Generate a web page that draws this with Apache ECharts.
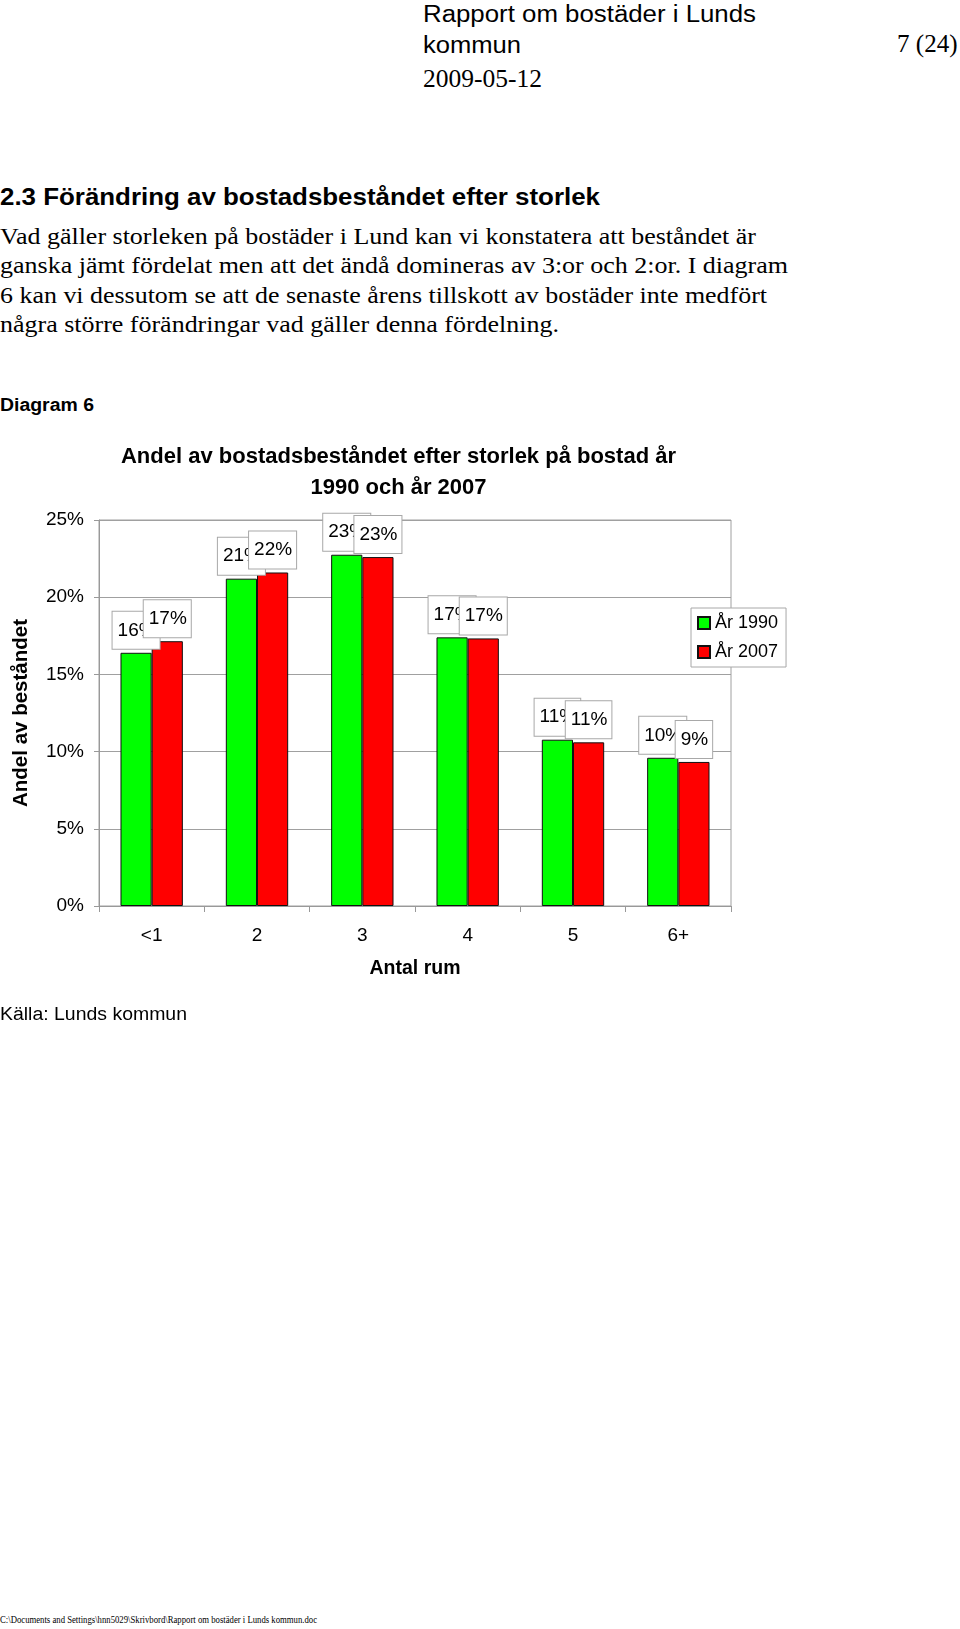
<!DOCTYPE html>
<html>
<head>
<meta charset="utf-8">
<script src="https://cdn.jsdelivr.net/npm/echarts@6/dist/echarts.min.js"></script>
<style>
  html, body { margin: 0; padding: 0; background: #fff; }
  body { width: 960px; height: 1629px; position: relative; overflow: hidden; }
  .t { position: absolute; white-space: nowrap; line-height: 1; color: #000; transform-origin: 0 0; }
  .sans { font-family: "Liberation Sans", Arial, sans-serif; }
  .serif { font-family: "Liberation Serif", "Times New Roman", serif; }
  #chart { position: absolute; left: 0; top: 420px; width: 960px; height: 600px; }
</style>
</head>
<body>
<div id="chart"></div>
<script>
// ---- data ----
const categories = ['<1', '2', '3', '4', '5', '6+'];
const seriesNames = ['År 1990', 'År 2007'];
const values1990 = [0.164, 0.212, 0.2275, 0.174, 0.1077, 0.096];
const values2007 = [0.1715, 0.216, 0.226, 0.1733, 0.106, 0.0933];
const yTicks = [0, 0.05, 0.10, 0.15, 0.20, 0.25];
const chartTitle = 'Andel av bostadsbeståndet efter storlek på bostad år\n1990 och år 2007';
const yAxisName = 'Andel av beståndet';
const xAxisName = 'Antal rum';

// ---- page text ----
const texts = [
  {s: 'Rapport om bostäder i Lunds', cls: 'sans', size: 23, w: 400, x: 422.7, base: 22.7, width: 333},
  {s: 'kommun', cls: 'sans', size: 23, w: 400, x: 422.7, base: 53.3, width: 98},
  {s: '7 (24)', cls: 'serif', size: 25, w: 400, x: 896.7, base: 51.7, width: 60.6},
  {s: '2009-05-12', cls: 'serif', size: 25, w: 400, x: 422.7, base: 87.3, width: 119},
  {s: '2.3 Förändring av bostadsbeståndet efter storlek', cls: 'sans', size: 23, w: 700, x: 0, base: 205, width: 600},
  {s: 'Vad gäller storleken på bostäder i Lund kan vi konstatera att beståndet är', cls: 'serif', size: 24, w: 400, x: 0, base: 244, width: 756},
  {s: 'ganska jämt fördelat men att det ändå domineras av 3:or och 2:or. I diagram', cls: 'serif', size: 24, w: 400, x: 0, base: 273.5, width: 788},
  {s: '6 kan vi dessutom se att de senaste årens tillskott av bostäder inte medfört', cls: 'serif', size: 24, w: 400, x: 0, base: 303, width: 767},
  {s: 'några större förändringar vad gäller denna fördelning.', cls: 'serif', size: 24, w: 400, x: 0, base: 332, width: 559},
  {s: 'Diagram 6', cls: 'sans', size: 17.5, w: 700, x: 0, base: 412.3, width: 94},
  {s: 'Källa: Lunds kommun', cls: 'sans', size: 18, w: 400, x: 0, base: 1020, width: 187},
  {s: 'C:\\Documents and Settings\\hnn5029\\Skrivbord\\Rapport om bostäder i Lunds kommun.doc', cls: 'serif', size: 10, w: 400, x: 0, base: 1623, width: 317}
];
texts.forEach(function (t) {
  const d = document.createElement('div');
  d.className = 't ' + t.cls;
  d.textContent = t.s;
  d.style.fontSize = t.size + 'px';
  d.style.fontWeight = t.w;
  const asc = t.cls === 'sans' ? 0.8465 : 0.8375;
  d.style.left = t.x + 'px';
  d.style.top = (t.base - asc * t.size) + 'px';
  document.body.appendChild(d);
  const mw = d.getBoundingClientRect().width;
  if (mw > 0) d.style.transform = 'scaleX(' + (t.width / mw) + ')';
});

// ---- chart ----
const chart = echarts.init(document.getElementById('chart'));
const FONT = '"Liberation Sans", Arial, sans-serif';
const pct = function (v) { return Math.round(v * 100) + '%'; };
const labelStyle = {
  show: true,
  position: 'top',
  distance: 4,
  formatter: function (p) { return pct(p.value); },
  fontFamily: FONT,
  fontSize: 19,
  color: '#000',
  backgroundColor: '#fff',
  borderColor: '#a8a8a8',
  borderWidth: 1,
  padding: [9, 4, 9, 5]
};
chart.setOption({
  animation: false,
  textStyle: { fontFamily: FONT },
  title: {
    text: chartTitle,
    left: 398.5,
    top: 21,
    padding: 0,
    textAlign: 'center',
    textStyle: { fontFamily: FONT, fontSize: 22, fontWeight: 'bold', lineHeight: 31, color: '#000' }
  },
  legend: {
    data: seriesNames,
    orient: 'vertical',
    left: 691,
    top: 188,
    itemWidth: 12,
    itemHeight: 12,
    itemGap: 11,
    padding: [6, 8, 6, 6],
    backgroundColor: '#fff',
    borderColor: '#a8a8a8',
    borderWidth: 1,
    borderRadius: 0,
    icon: 'rect',
    textStyle: { fontFamily: FONT, fontSize: 18, color: '#000' }
  },
  grid: {
    left: 99, top: 100, width: 632, height: 386,
    show: true, borderColor: '#a0a0a0', borderWidth: 1, backgroundColor: 'transparent'
  },
  xAxis: {
    type: 'category',
    data: categories,
    name: xAxisName,
    nameLocation: 'middle',
    nameGap: 53,
    nameTextStyle: { fontFamily: FONT, fontSize: 19.5, fontWeight: 'bold', color: '#000' },
    axisLine: { lineStyle: { color: '#999', width: 1 } },
    axisTick: { show: true, length: 6, interval: 0, lineStyle: { color: '#999' } },
    axisLabel: { fontFamily: FONT, fontSize: 19, color: '#000', margin: 20, interval: 0 }
  },
  yAxis: {
    type: 'value',
    min: yTicks[0],
    max: yTicks[yTicks.length - 1],
    interval: 0.05,
    name: yAxisName,
    nameLocation: 'middle',
    nameGap: 67,
    nameTextStyle: { fontFamily: FONT, fontSize: 20.5, fontWeight: 'bold', color: '#000' },
    axisLine: { show: true, lineStyle: { color: '#999', width: 1 } },
    axisTick: { show: true, length: 5, lineStyle: { color: '#999' } },
    axisLabel: { fontFamily: FONT, fontSize: 19, color: '#000', margin: 15, formatter: pct },
    splitLine: { show: true, lineStyle: { color: '#a0a0a0', width: 1 } }
  },
  series: [
    {
      name: seriesNames[0], type: 'bar', data: values1990,
      barWidth: '29.6%', barGap: '0%',
      itemStyle: { color: '#00ff00', borderColor: '#111', borderWidth: 1 },
      label: labelStyle
    },
    {
      name: seriesNames[1], type: 'bar', data: values2007,
      barWidth: '29.6%', barGap: '0%',
      itemStyle: { color: '#ff0000', borderColor: '#111', borderWidth: 1 },
      label: labelStyle
    }
  ]
});
</script>
</body>
</html>
